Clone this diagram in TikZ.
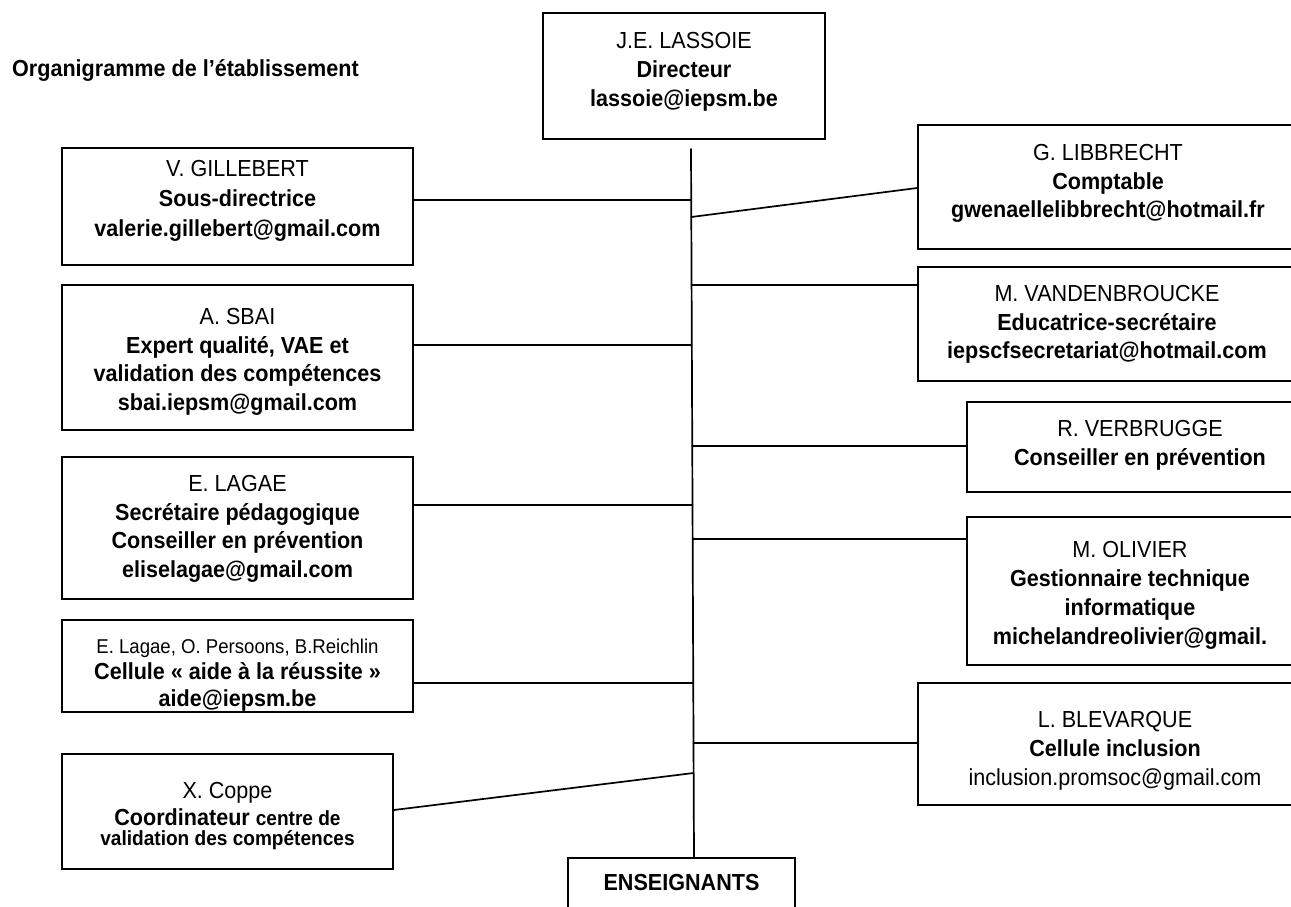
\documentclass[tikz,border=0pt]{standalone}
\usepackage{fontspec}
\setmainfont{Liberation Sans}[FakeStretch=0.93]
\usetikzlibrary{calc}
\newcommand\fsA{\fontsize{23.2}{29}\selectfont}
\newcommand\fsB{\fontsize{23.2}{28.5}\selectfont}
\newcommand\fsSmall{\fontsize{20.5}{22}\selectfont}
\begin{document}
\begin{tikzpicture}[x=1pt,y=-1pt,
  box/.style={draw=black, line width=1.8pt, rectangle, inner sep=0pt},
  txt/.style={anchor=north, inner sep=0pt, align=center, font=\fsA},
  txtb/.style={txt, font=\fsB},
  link/.style={line width=1.7pt, line cap=round}]
\fill[white] (0,0) rectangle (1291,906);
\useasboundingbox (0,0) rectangle (1291,906);
\clip (0,0) rectangle (1291,906);

% title
\node[anchor=base west, inner sep=0pt, font=\fsA\bfseries] (title) at (12,76) {Organigramme de l’établissement};

% boxes
\node[box, minimum width=282pt, minimum height=126pt] (dir) at (684,76) {};
\node[box, minimum width=351pt, minimum height=117pt] (gil) at (237.5,206.5) {};
\node[box, minimum width=351pt, minimum height=145pt] (sba) at (237.5,357.5) {};
\node[box, minimum width=351pt, minimum height=142pt] (lag) at (237.5,528) {};
\node[box, minimum width=351pt, minimum height=92pt] (cel) at (237.5,666) {};
\node[box, minimum width=331pt, minimum height=115pt] (cop) at (227.5,811.5) {};
\node[box, minimum width=392pt, minimum height=124pt] (lib) at (1114,187) {};
\node[box, minimum width=392pt, minimum height=114pt] (van) at (1114,324) {};
\node[box, minimum width=350pt, minimum height=90pt] (ver) at (1142,447) {};
\node[box, minimum width=350pt, minimum height=148pt] (oli) at (1142,591) {};
\node[box, minimum width=392pt, minimum height=122pt] (ble) at (1114,744) {};
\node[box, minimum width=227pt, minimum height=82pt] (ens) at (681.5,899) {};

% texts
\node[txt] (tdir) at (684,32.5) {J.E. LASSOIE\\ \textbf{Directeur}\\ \textbf{lassoie@iepsm.be}};
\node[txt, font=\fontsize{23.2}{30}\selectfont] (tgil) at (237.5,160.5) {V. GILLEBERT\\ \textbf{Sous-directrice}\\ \textbf{valerie.gillebert@gmail.com}};
\node[txtb] (tsba) at (237.5,308.5) {A. SBAI\\ \textbf{Expert qualité, VAE et}\\ \textbf{validation des compétences}\\ \textbf{sbai.iepsm@gmail.com}};
\node[txtb] (tlag) at (237.5,475.5) {E. LAGAE\\ \textbf{Secrétaire pédagogique}\\ \textbf{Conseiller en prévention}\\ \textbf{eliselagae@gmail.com}};
\node[txt, font=\fontsize{23.2}{26.5}\selectfont] (tcel) at (237.5,638.7) {{\fontsize{20}{24}\selectfont E. Lagae, O. Persoons, B.Reichlin}\\ \textbf{Cellule « aide à la réussite »}\\ \textbf{aide@iepsm.be}};
\node[txt, font=\fontsize{23.2}{20}\selectfont] (tcop) at (227.5,782.5) {X. Coppe\\[4pt] \textbf{Coordinateur} {\fsSmall\bfseries centre de}\\ {\fsSmall\bfseries validation des compétences}};
\node[txtb] (tlib) at (1108,144.5) {G. LIBBRECHT\\ \textbf{Comptable}\\ \textbf{gwenaellelibbrecht@hotmail.fr}};
\node[txtb] (tvan) at (1107,285.5) {M. VANDENBROUCKE\\ \textbf{Educatrice-secrétaire}\\ \textbf{iepscfsecretariat@hotmail.com}};
\node[txt] (tver) at (1140,420.5) {R. VERBRUGGE\\ \textbf{Conseiller en prévention}};
\node[txt] (toli) at (1130,541.5) {M. OLIVIER\\ \textbf{Gestionnaire technique}\\ \textbf{informatique}\\ \textbf{michelandreolivier@gmail.}};
\node[txt] (tble) at (1115,711.5) {L. BLEVARQUE\\ \textbf{Cellule inclusion}\\ inclusion.promsoc@gmail.com};
\node[txt] (tens) at (681.5,874.5) {\textbf{ENSEIGNANTS}};

% spine
\coordinate (vtop) at (691,149);
\coordinate (vbot) at (694,858);
\draw[link] (vtop) -- (vbot);

% connectors
\draw[link] (gil.east |- 0,200) -- ($(vtop)!0.0719!(vbot)$);
\draw[link] ($(vtop)!0.0959!(vbot)$) -- (lib.west |- 0,188);
\draw[link] ($(vtop)!0.1918!(vbot)$) -- (van.west |- 0,285);
\draw[link] (sba.east |- 0,345) -- ($(vtop)!0.2764!(vbot)$);
\draw[link] ($(vtop)!0.4189!(vbot)$) -- (ver.west |- 0,446);
\draw[link] (lag.east |- 0,505) -- ($(vtop)!0.5021!(vbot)$);
\draw[link] ($(vtop)!0.5500!(vbot)$) -- (oli.west |- 0,539);
\draw[link] (cel.east |- 0,683) -- ($(vtop)!0.7532!(vbot)$);
\draw[link] ($(vtop)!0.8378!(vbot)$) -- (ble.west |- 0,743);
\draw[link] (cop.east |- 0,810) -- ($(vtop)!0.8801!(vbot)$);
\end{tikzpicture}
\end{document}
